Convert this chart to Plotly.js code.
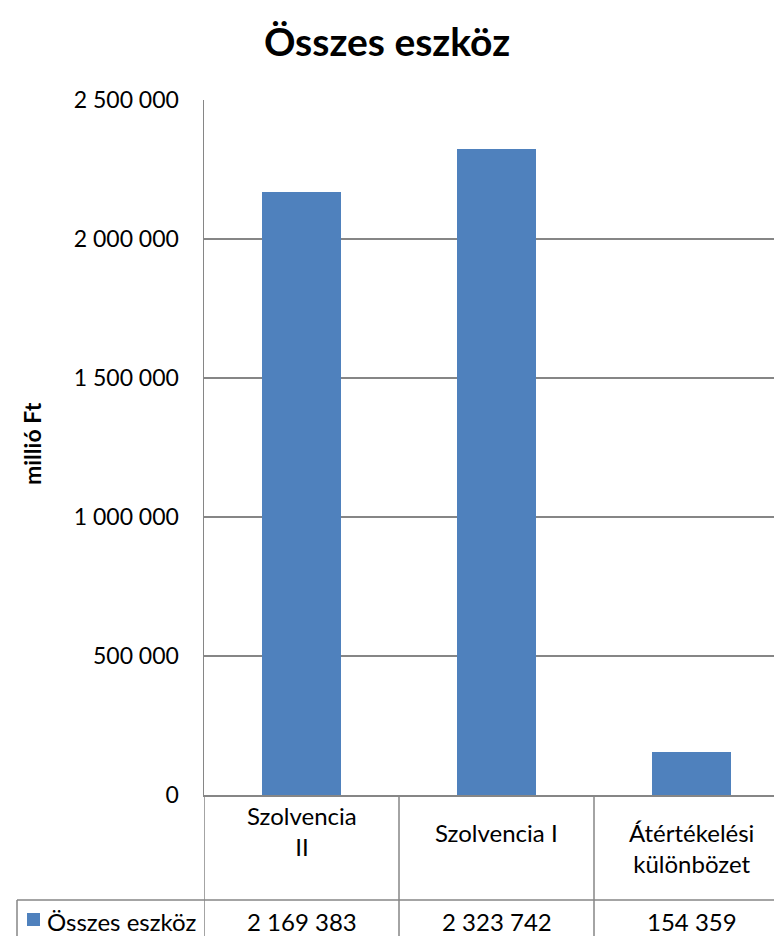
<!DOCTYPE html>
<html>
<head>
<meta charset="utf-8">
<script src="https://cdn.plot.ly/plotly-3.0.1.min.js"></script>
<style>html,body{margin:0;padding:0;background:#fff;overflow:hidden;}</style>
</head>
<body>
<div id="chart" style="width:774px;height:936px;"></div>
<script>
const chartTitle = "Összes eszköz";
const yTitle = "millió Ft";
const seriesName = "Összes eszköz";
const categories = ["Szolvencia<br>II", "Szolvencia I", "Átértékelési<br>különbözet"];
const values = [2169383, 2323742, 154359];
const tickVals = [0, 500000, 1000000, 1500000, 2000000, 2500000];

const FONT = "Lato, 'Open Sans', sans-serif";
const BLUE = "#4F81BD";
const GRID = "#868686";
const L = 204, R = 774, T = 100, B = 795;
const COLW = 195; // column width in px (chart is cropped at the right edge)
const px = x => (x - L) / (R - L);
const py = y => (B - y) / (B - T);
const fmt = n => String(n).replace(/\B(?=(\d{3})+(?!\d))/g, " ");

const shapes = [];
const line = (x0, y0, x1, y1, xref) => shapes.push({type: "line", xref: xref || "paper", yref: "paper",
  x0: x0, y0: y0, x1: x1, y1: y1, line: {color: GRID, width: 1.5}});
for (let i = 0; i < categories.length; i++) line(i - 0.5, py(B), i - 0.5, py(936), "x");
line(px(17), py(900), 1, py(900));
line(px(17), py(900), px(17), py(936));
shapes.push({type: "rect", xref: "paper", yref: "paper", x0: px(27), x1: px(40), y0: py(926), y1: py(913),
  fillcolor: BLUE, line: {width: 0}});

const labelY = [831, 832, 848];
const annotations = [];
categories.forEach((c, i) => {
  annotations.push({xref: "x", yref: "paper", x: i, y: py(labelY[i]), text: c, showarrow: false,
    xanchor: "center", yanchor: "middle", font: {family: FONT, size: 24, color: "#000"}});
  annotations.push({xref: "x", yref: "paper", x: i, y: py(921), text: fmt(values[i]), showarrow: false,
    xanchor: "center", yanchor: "middle", font: {family: FONT, size: 24, color: "#000"}});
});
annotations.push({xref: "paper", yref: "paper", x: px(45), y: py(921), text: seriesName, showarrow: false,
  xanchor: "left", yanchor: "middle", font: {family: FONT, size: 24, color: "#000"}});
annotations.push({xref: "paper", yref: "paper", x: px(32), y: py(444), text: "<b>" + yTitle + "</b>", showarrow: false,
  textangle: -90, xanchor: "center", yanchor: "middle", font: {family: FONT, size: 23, color: "#000"}});

const data = [{
  type: "bar", x: categories, y: values, name: seriesName,
  marker: {color: BLUE}, hoverinfo: "skip"
}];

const layout = {
  width: 774, height: 936,
  margin: {l: L, r: 774 - R, t: T, b: 936 - B, pad: 0},
  paper_bgcolor: "#fff", plot_bgcolor: "#fff",
  separators: ", ",
  showlegend: false,
  bargap: 1 - 79 / COLW,
  title: {text: "<b>" + chartTitle + "</b>", x: 387 / 774, xref: "container", xanchor: "center",
    y: 1 - 42 / 936, yref: "container", yanchor: "middle",
    font: {family: FONT, size: 39, color: "#000"}},
  xaxis: {type: "category", range: [-0.5, -0.5 + (R - L) / COLW], showticklabels: false, ticks: "", showgrid: false,
    showline: true, linecolor: GRID, linewidth: 1.5, zeroline: false, fixedrange: true},
  yaxis: {range: [0, 2500000], tickvals: tickVals, tickformat: ",d", ticks: "", ticklabelstandoff: 19,
    showgrid: true, gridcolor: GRID, gridwidth: 1.5, showline: true, linecolor: GRID, linewidth: 1.5,
    zeroline: false, tickfont: {family: FONT, size: 23, color: "#000"}, fixedrange: true},
  shapes: shapes,
  annotations: annotations
};

Plotly.newPlot("chart", data, layout, {displayModeBar: false, staticPlot: true});
</script>
</body>
</html>
